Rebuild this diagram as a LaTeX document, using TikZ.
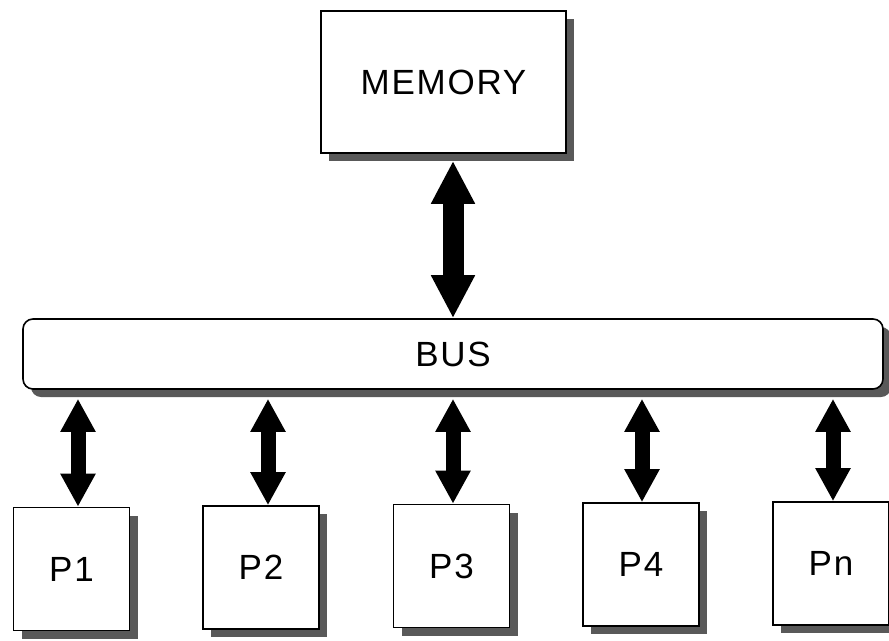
\documentclass[tikz,border=0pt]{standalone}
\usepackage{fontspec}
\setmainfont{Liberation Sans}
\newfontfamily\boxfont[LetterSpace=5]{Liberation Sans}
\usetikzlibrary{arrows.meta,shadows}

\begin{document}
\begin{tikzpicture}[x=1pt,y=-1pt,
	box/.style={draw,line width=1.6pt,fill=white,minimum width=116pt,minimum height=123pt,
		font=\boxfont\fontsize{35}{40}\selectfont,
		drop shadow={shadow xshift=8pt,shadow yshift=-8pt,fill=black!65,opacity=1}},
	busbox/.style={box,rounded corners=10pt,minimum width=860pt,minimum height=70pt},
	bigarrow/.style={line width=21pt,{Triangle[length=43pt,width=41pt]}-{Triangle[length=43pt,width=41pt]}},
	smallarrow/.style={line width=15pt,{Triangle[length=33pt,width=33pt]}-{Triangle[length=33pt,width=33pt]}}]
				\useasboundingbox (0,0) rectangle (889,640);
				%top: memory and the bus, placed by hand
				\node[box,minimum width=245pt,minimum height=142pt] (mem) at (443.5,82){MEMORY};
				\node[busbox] (bus) at (453,354){BUS};
				\draw[bigarrow] ([xshift=9.5pt,yshift=-7pt]mem.south) -- ([xshift=9.5pt]mem.south |- bus.north);
				%% processors and their arrows drawn with a loop
				\foreach \n/\cx/\cy/\dx in {1/71.5/569/6.5, 2/261/567.5/7, 3/451.5/566/1.5, 4/641/564.5/1, n/831/563.5/2}{
					\node[box] (p\n) at (\cx,\cy){P\n};
					\draw[smallarrow] ([xshift=\dx pt,yshift=-9pt]p\n.north |- bus.south) -- ([xshift=\dx pt]p\n.north);
					}
				\end{tikzpicture}
\end{document}
